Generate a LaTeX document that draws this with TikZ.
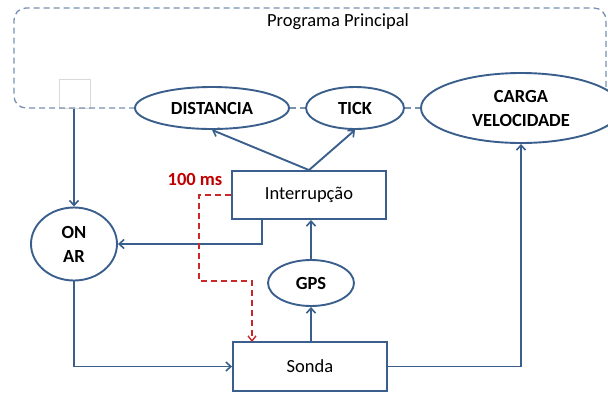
\documentclass[tikz,border=0pt]{standalone}
\usepackage{fontspec}
\setmainfont{Carlito}
\usetikzlibrary{shapes.geometric,arrows.meta}
\definecolor{lineblue}{RGB}{58,95,140}
\definecolor{dashblue}{RGB}{120,145,175}
\definecolor{darkred}{RGB}{192,0,0}
\definecolor{dashred}{RGB}{200,40,40}
\begin{document}
\begin{tikzpicture}[x=1pt,y=-1pt,
  font=\fontsize{18.5}{24}\selectfont,
  conn/.style={draw=lineblue,line width=1.9pt,-{Straight Barb[length=5pt,width=9pt,line width=1.6pt]}},
  rbox/.style={draw=lineblue,line width=1.9pt,fill=white,rectangle,minimum width=154pt,minimum height=48pt,inner sep=0pt},
  oval/.style={draw=lineblue,line width=1.9pt,fill=white,ellipse,inner sep=0pt,align=center,font=\fontsize{18.5}{24}\selectfont\bfseries},
  progline/.style={draw=dashblue,line width=1.3pt,dash pattern=on 6pt off 4pt}
]
\useasboundingbox (0,0) rectangle (608,392);
\begin{scope}
\clip (0,0) rectangle (608,392);
% main program frame
\node (prog) at (338,22) {Programa Principal};
\node[draw=black!15,fill=white,minimum width=31pt,minimum height=29pt,inner sep=0pt] (sqbox) at (74.5,93.5) {};
\draw[progline,rounded corners=12pt] (135,108) -- (14,108) -- (14,8) -- (606,8) -- (606,110);
\coordinate (sq) at (74,109);
% nodes
\node[oval,minimum width=154pt,minimum height=42pt] (dist) at (212,108) {DISTANCIA};
\node[oval,minimum width=98pt,minimum height=42pt] (tick) at (355,108) {TICK};
\draw[progline] (dist.east) -- (tick.west);
\draw[progline] (tick.east) -- (421,108);
\node[oval,minimum width=200pt,minimum height=70pt] (carga) at (521,108) {CARGA\\VELOCIDADE};
\node[rbox] (int) at (309,195) {Interrupção};
\node[rbox,minimum height=49pt] (sonda) at (310,366.5) {Sonda};
\node[oval,minimum width=86pt,minimum height=46pt] (gps) at (311,283) {GPS};
\node[oval,minimum width=86pt,minimum height=73pt] (onar) at (74,244) {ON\\AR};
\node[text=darkred,font=\fontsize{18.5}{24}\selectfont\bfseries] (ms) at (195,179) {100 ms};
% connectors
\draw[conn] (sq) -- (onar.north);
\draw[conn] (int.north) -- (dist.south);
\draw[conn] (int.north) -- (tick.south);
\draw[conn] ([xshift=-47pt]int.south) |- (onar.east);
\draw[conn] (gps.north) -- (gps.north |- int.south);
\draw[conn] (gps.south |- sonda.north) -- (gps.south);
\draw[conn] (onar.south) |- (sonda.west);
\draw[conn] (sonda.east) -| (carga.south);
\draw[draw=dashred,line width=1.8pt,dash pattern=on 6pt off 4pt,-{Straight Barb[length=5pt,width=8pt,line width=1.4pt]}]
  (int.west) -- (199,195) -- (199,281) -- (252,281) -- (252,342);
\end{scope}
\end{tikzpicture}
\end{document}
